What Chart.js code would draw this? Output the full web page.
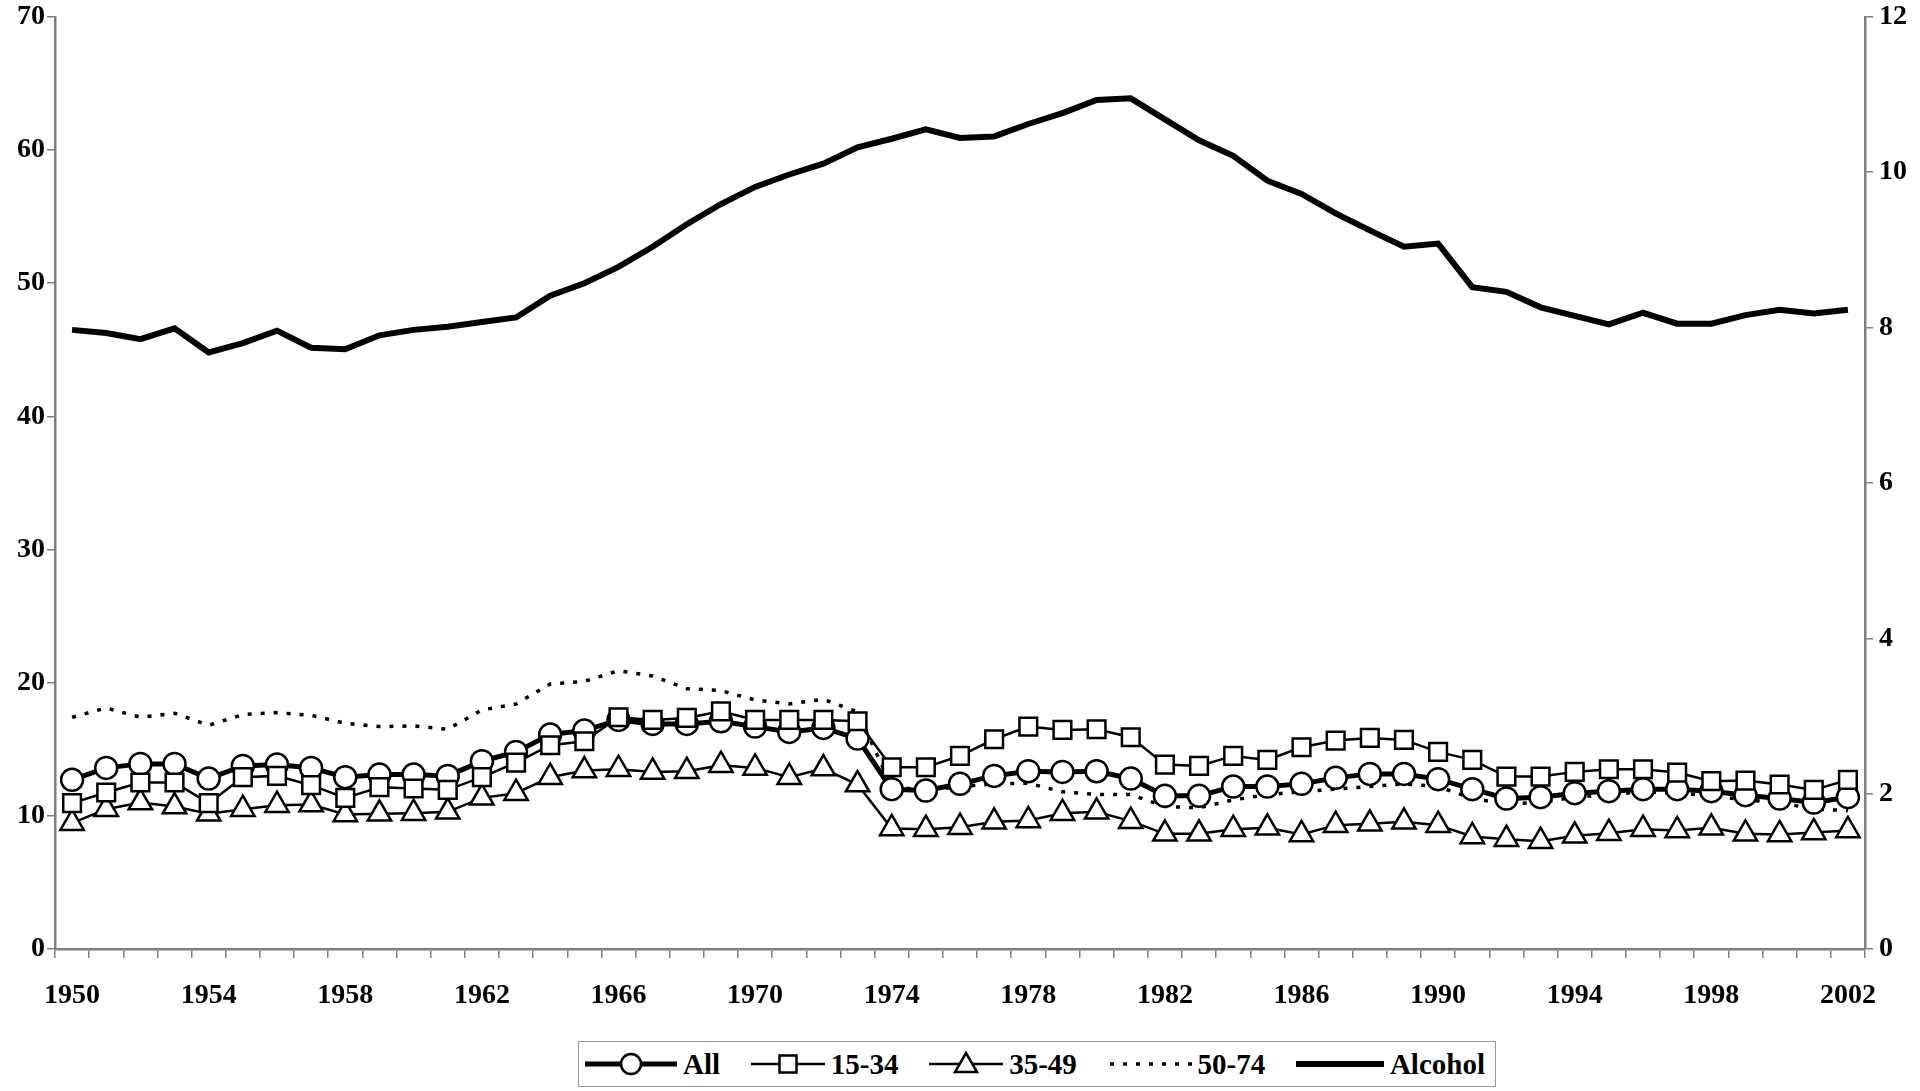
<!DOCTYPE html>
<html>
<head>
<meta charset="utf-8">
<script src="https://cdn.jsdelivr.net/npm/chart.js@4.4.1/dist/chart.umd.min.js"></script>
<style>
  html, body { margin: 0; padding: 0; background: #fff; }
  body { width: 1920px; height: 1091px; position: relative; overflow: hidden;
         font-family: "Liberation Serif", "DejaVu Serif", serif; font-weight: bold; }
  #wrap { position: absolute; left: 0; top: -6px; width: 1920px; height: 1036px; }
  #legend { position: absolute; left: 578px; top: 1041px; width: 918px; height: 46px;
            box-sizing: border-box; border: 1.5px solid #9a9a9a; background: #fff;
            display: flex; align-items: center; justify-content: space-between;
            padding: 0 10px 0 6px; font-size: 29px; color: #000; }
  .item { display: flex; align-items: center; }
  .item span { margin-left: 6px; }
</style>
</head>
<body>
<div id="wrap"><canvas id="chart"></canvas></div>
<div id="legend">
  <div class="item">
    <svg width="92" height="30"><line x1="0" y1="15" x2="92" y2="15" stroke="#000" stroke-width="5"/><circle cx="46" cy="15" r="10" fill="#fff" stroke="#000" stroke-width="2.5"/></svg>
    <span>All</span>
  </div>
  <div class="item">
    <svg width="74" height="30"><line x1="0" y1="15" x2="74" y2="15" stroke="#000" stroke-width="2.5"/><rect x="28.5" y="6.5" width="17" height="17" fill="#fff" stroke="#000" stroke-width="2.5"/></svg>
    <span>15-34</span>
  </div>
  <div class="item">
    <svg width="74" height="30"><line x1="0" y1="15" x2="74" y2="15" stroke="#000" stroke-width="2.5"/><polygon points="37,4 48,23 26,23" fill="#fff" stroke="#000" stroke-width="2.5"/></svg>
    <span>35-49</span>
  </div>
  <div class="item">
    <svg width="84" height="30"><line x1="2" y1="15" x2="84" y2="15" stroke="#000" stroke-width="3.5" stroke-dasharray="4 9"/></svg>
    <span>50-74</span>
  </div>
  <div class="item">
    <svg width="88" height="30"><line x1="0" y1="15" x2="88" y2="15" stroke="#000" stroke-width="6"/></svg>
    <span>Alcohol</span>
  </div>
</div>
<script>
const years = ['1950','1951','1952','1953','1954','1955','1956','1957','1958','1959',
  '1960','1961','1962','1963','1964','1965','1966','1967','1968','1969',
  '1970','1971','1972','1973','1974','1975','1976','1977','1978','1979',
  '1980','1981','1982','1983','1984','1985','1986','1987','1988','1989',
  '1990','1991','1992','1993','1994','1995','1996','1997','1998','1999',
  '2000','2001','2002'];

const shownYears = ['1950','1954','1958','1962','1966','1970','1974','1978','1982','1986','1990','1994','1998','2002'];

const allAges = [12.7,13.6,13.9,13.9,12.8,13.75,13.85,13.6,12.9,13.1,
  13.1,13.0,14.1,14.8,16.1,16.4,17.2,16.9,16.9,17.1,
  16.7,16.3,16.6,15.8,12.0,11.9,12.4,13.0,13.35,13.3,
  13.35,12.8,11.5,11.5,12.2,12.2,12.4,12.85,13.15,13.15,
  12.75,12.0,11.3,11.4,11.7,11.85,12.0,12.0,11.85,11.55,
  11.3,11.0,11.4];

const age1534 = [10.95,11.75,12.5,12.5,10.95,12.9,13.0,12.3,11.35,12.15,
  12.05,11.95,12.9,14.0,15.3,15.6,17.4,17.2,17.35,17.85,
  17.2,17.2,17.2,17.1,13.65,13.65,14.5,15.75,16.7,16.45,
  16.5,15.9,13.85,13.75,14.5,14.2,15.15,15.65,15.85,15.7,
  14.8,14.2,12.95,12.95,13.3,13.5,13.5,13.25,12.6,12.65,
  12.35,11.95,12.7];

const age3549 = [9.45,10.5,11.0,10.7,10.15,10.5,10.8,10.85,10.1,10.15,
  10.2,10.3,11.35,11.7,12.9,13.4,13.5,13.3,13.35,13.8,
  13.6,12.9,13.55,12.35,9.05,9.0,9.15,9.55,9.65,10.2,
  10.3,9.6,8.65,8.65,9.0,9.1,8.6,9.3,9.4,9.55,
  9.3,8.45,8.25,8.1,8.5,8.7,9.0,8.9,9.1,8.65,
  8.6,8.75,8.9];

const age5074 = [17.4,18.1,17.4,17.7,16.8,17.6,17.75,17.55,16.95,16.7,
  16.75,16.5,17.95,18.4,19.9,20.1,20.9,20.5,19.55,19.4,
  18.7,18.4,18.75,17.8,12.2,11.9,12.2,12.4,12.45,11.8,
  11.6,11.6,10.7,10.6,11.2,11.6,11.8,12.0,12.2,12.4,
  12.2,11.3,10.9,11.0,11.4,11.6,11.8,11.7,11.5,11.2,
  11.0,10.5,10.4];

const alcohol = [7.97,7.93,7.85,7.99,7.68,7.80,7.96,7.74,7.72,7.90,
  7.97,8.01,8.07,8.13,8.41,8.57,8.78,9.04,9.33,9.59,
  9.81,9.97,10.11,10.32,10.43,10.55,10.44,10.46,10.62,10.76,
  10.93,10.95,10.68,10.41,10.21,9.89,9.72,9.47,9.25,9.04,
  9.08,8.52,8.46,8.26,8.15,8.04,8.19,8.05,8.05,8.16,
  8.23,8.18,8.23];

const tickFont = { family: '"Liberation Serif", "DejaVu Serif", serif', size: 28, weight: 'bold' };
const axisGray = '#7f7f7f';

new Chart(document.getElementById('chart'), {
  type: 'line',
  data: {
    labels: years,
    datasets: [
      {
        label: '15-34', data: age1534, yAxisID: 'y', order: 0,
        borderColor: '#000', borderWidth: 2.5,
        pointStyle: 'rect', pointRadius: 12.5, pointBorderWidth: 2.5,
        pointBackgroundColor: '#fff', pointBorderColor: '#000'
      },
      {
        label: '35-49', data: age3549, yAxisID: 'y', order: 1,
        borderColor: '#000', borderWidth: 2.5,
        pointStyle: 'triangle', pointRadius: 13.5, pointBorderWidth: 2.5,
        pointBackgroundColor: '#fff', pointBorderColor: '#000'
      },
      {
        label: 'All', data: allAges, yAxisID: 'y', order: 2,
        borderColor: '#000', borderWidth: 5,
        pointStyle: 'circle', pointRadius: 11, pointBorderWidth: 2.5,
        pointBackgroundColor: '#fff', pointBorderColor: '#000'
      },
      {
        label: '50-74', data: age5074, yAxisID: 'y', order: 3,
        borderColor: '#000', borderWidth: 3.5, borderDash: [4, 9],
        pointRadius: 0
      },
      {
        label: 'Alcohol', data: alcohol, yAxisID: 'y2', order: 4,
        borderColor: '#000', borderWidth: 6, pointRadius: 0
      }
    ]
  },
  options: {
    responsive: true,
    maintainAspectRatio: false,
    animation: false,
    layout: { padding: 0 },
    plugins: { legend: { display: false }, tooltip: { enabled: false } },
    scales: {
      x: {
        offset: true,
        grid: { offset: true, drawOnChartArea: false, color: axisGray, tickLength: 9, lineWidth: 1.5 },
        border: { color: axisGray, width: 2.5 },
        ticks: {
          autoSkip: false, maxRotation: 0, color: '#000', font: tickFont, padding: 21,
          callback: function(value) {
            const lab = this.getLabelForValue(value);
            return shownYears.includes(lab) ? lab : '';
          }
        },
        afterFit: (scale) => { scale.height = 81; }
      },
      y: {
        position: 'left', min: 0, max: 70,
        ticks: { stepSize: 10, color: '#000', font: tickFont, padding: 2 },
        grid: { drawOnChartArea: false, color: axisGray, tickLength: 8, lineWidth: 1.5 },
        border: { color: axisGray, width: 2.5 },
        afterFit: (scale) => { scale.width = 55; }
      },
      y2: {
        position: 'right', min: 0, max: 12,
        ticks: { stepSize: 2, color: '#000', font: tickFont, padding: 6 },
        grid: { drawOnChartArea: false, color: axisGray, tickLength: 8, lineWidth: 1.5 },
        border: { color: axisGray, width: 2.5 },
        afterFit: (scale) => { scale.width = 55; }
      }
    }
  }
});
</script>
</body>
</html>
